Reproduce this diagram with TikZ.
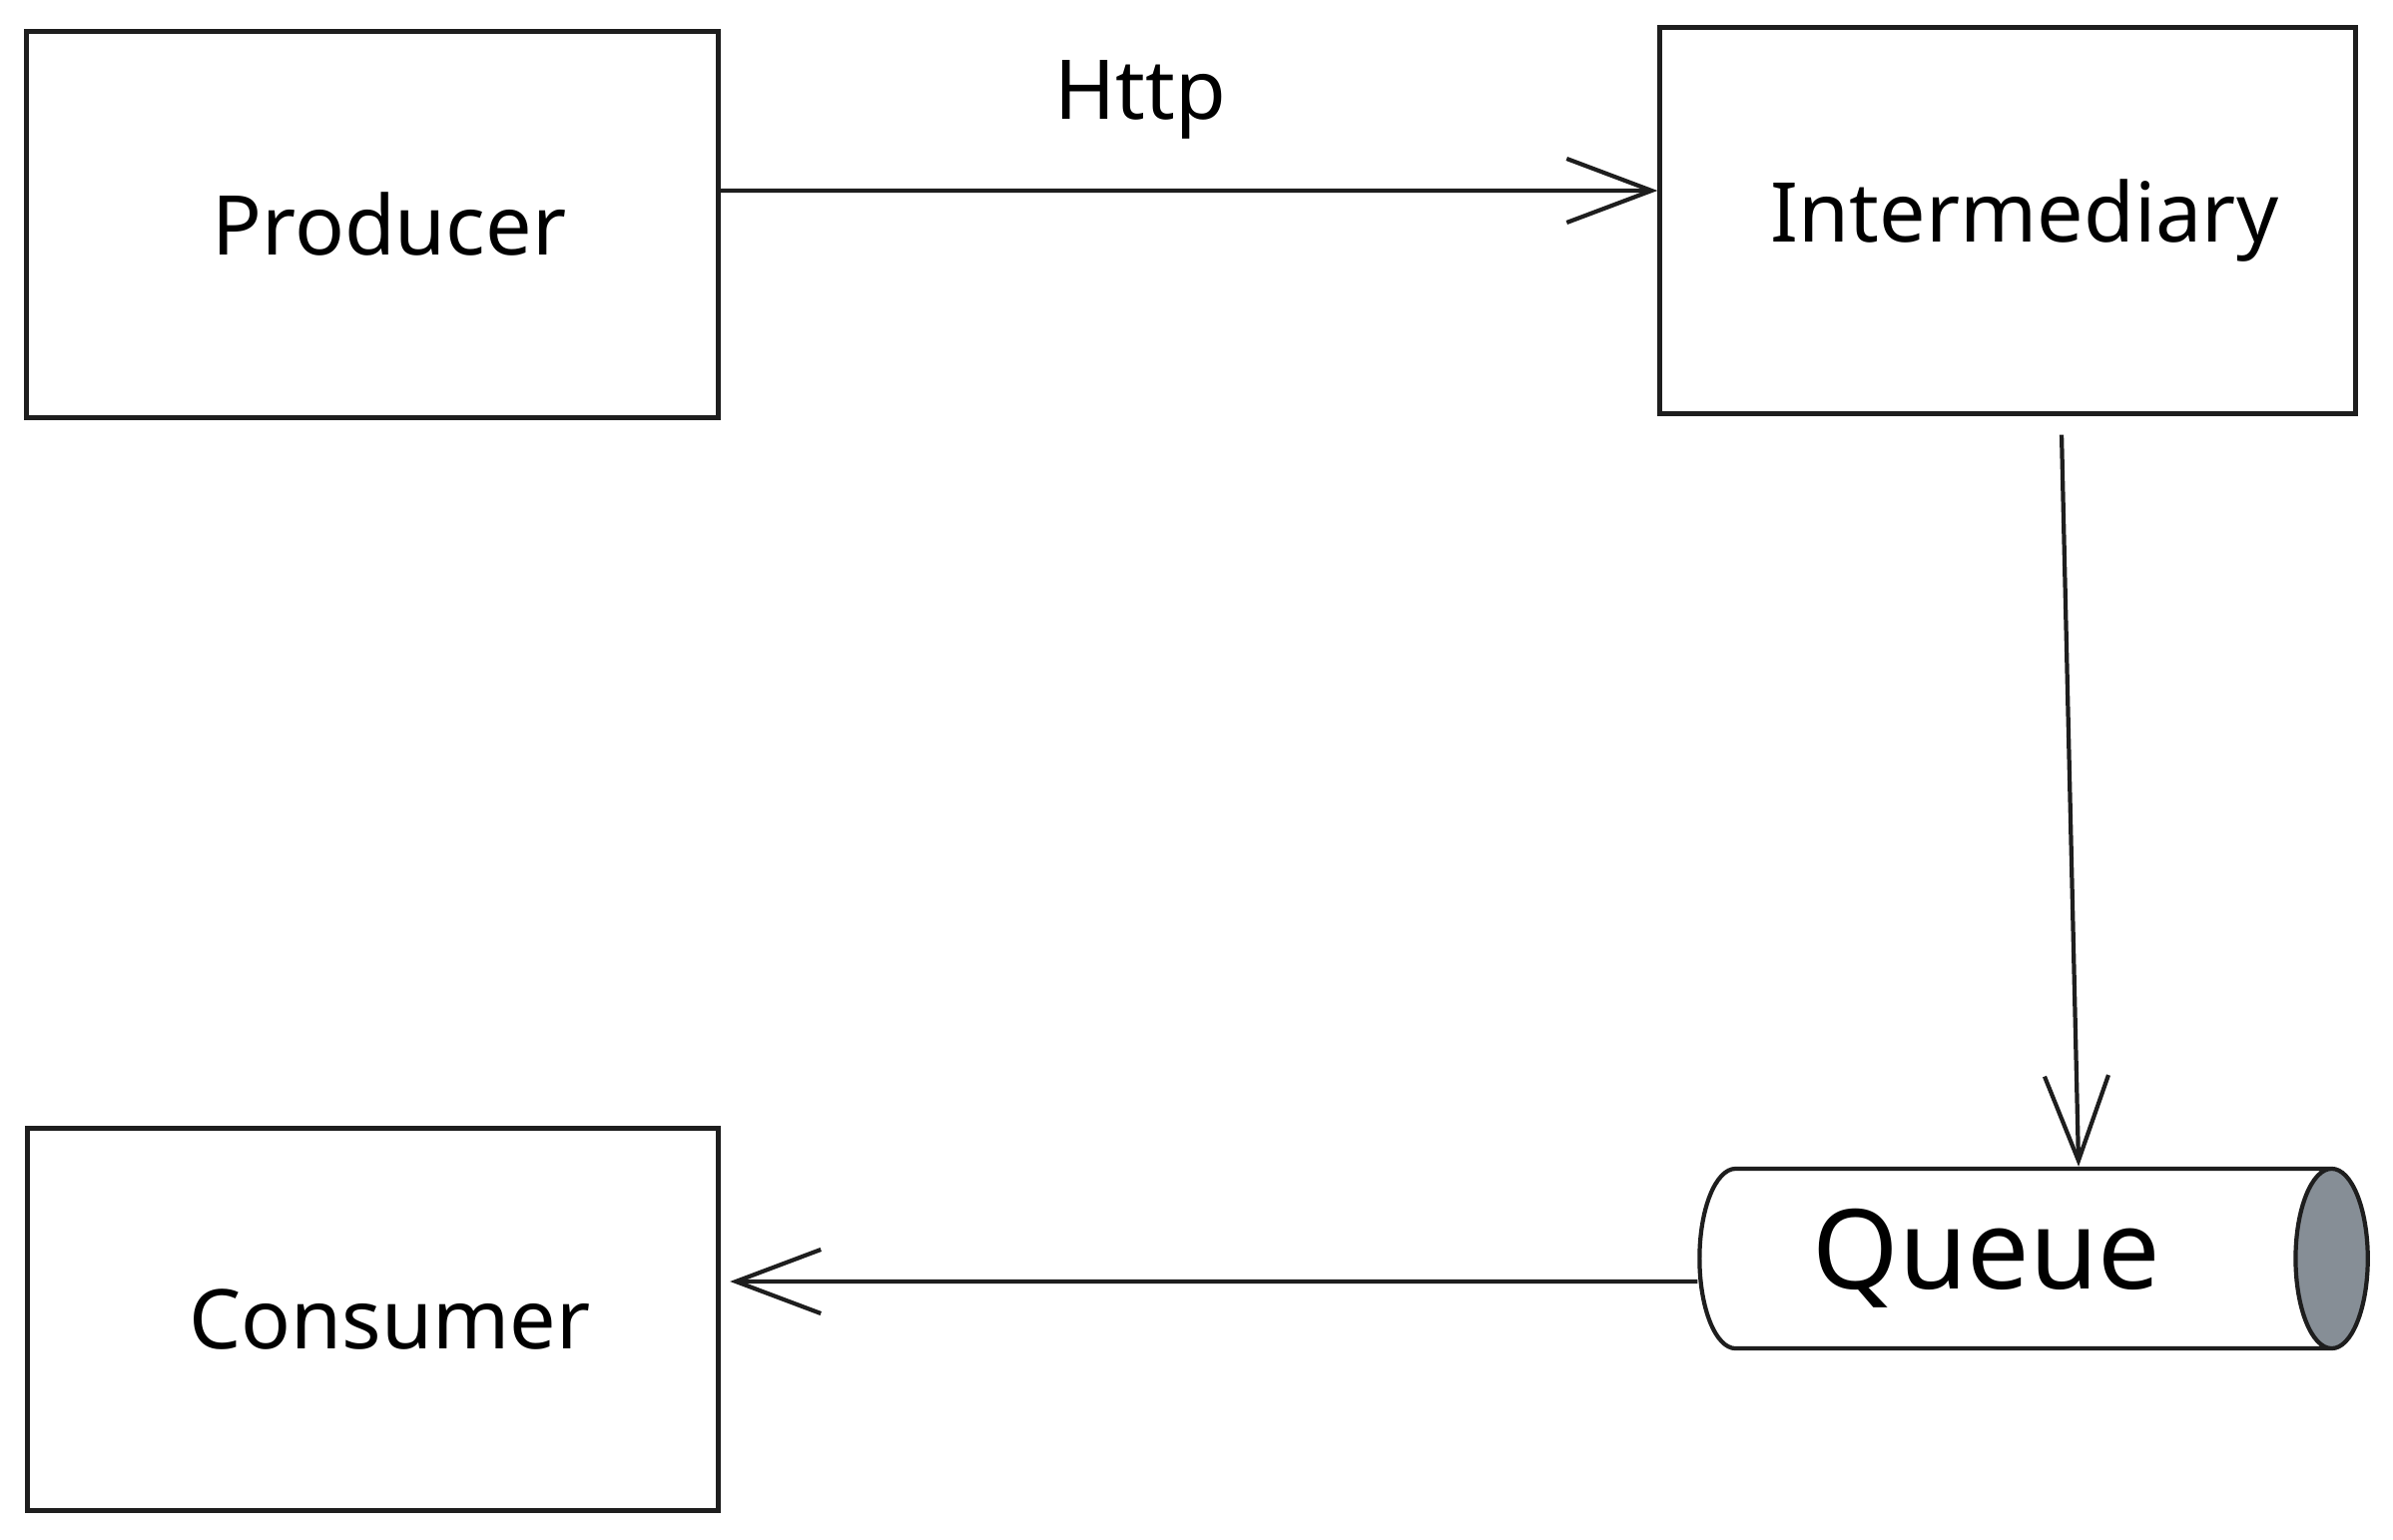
\documentclass[tikz,border=0pt]{standalone}
\usepackage{fontspec}
\setmainfont{Noto Sans}
\usetikzlibrary{arrows.meta,positioning,shapes.geometric}

\definecolor{inkdark}{HTML}{1E1E1E}
\definecolor{queuegray}{HTML}{868E96}

\begin{document}
\begin{tikzpicture}[x=0.01cm, y=-0.01cm,
  box/.style={draw=inkdark, line width=1.4pt, minimum width=6.92cm, minimum height=3.86cm,
    font=\fontsize{23.5}{28}\selectfont, execute at begin node={\hspace*{3.4mm}}},
  flow/.style={draw=inkdark, line width=1.2pt, -{Straight Barb[length=8.5mm, width=6.4mm, line width=1.2pt]}}]
  \useasboundingbox (0,0) rectangle (2397,1542);

  % Boxes
  \node[box] (producer) at (373,225) {Producer};
  \node[box, minimum width=6.96cm] (intermediary) at (2011,221) {Intermediary};
  \node[box, minimum height=3.82cm] (consumer) at (373.5,1322) {Consumer};

  % Queue cylinder
  \node[draw=inkdark, line width=1.2pt, shape=cylinder, shape aspect=0.59,
    minimum height=6.69cm, minimum width=1.8cm,
    cylinder uses custom fill, cylinder body fill=white, cylinder end fill=queuegray,
    font=\fontsize{31.5}{36}\selectfont] (queue) at (2009,1261) {\hspace*{-3.8mm}Queue};

  % Arrows
  \draw[flow] ([yshift=3.4mm]producer.east) -- ([yshift=3mm]intermediary.west);
  \draw[flow] ([xshift=5.4mm, yshift=-1.9mm]intermediary.south) -- ([xshift=7.3mm]queue.north);
  \draw[flow] ([yshift=-2.3mm]queue.west) -- ([xshift=0.9mm, yshift=3.8mm]consumer.east);

  % Label
  \node[anchor=base, font=\fontsize{23.5}{28}\selectfont] (http) at (1142,119) {Http};
\end{tikzpicture}
\end{document}
